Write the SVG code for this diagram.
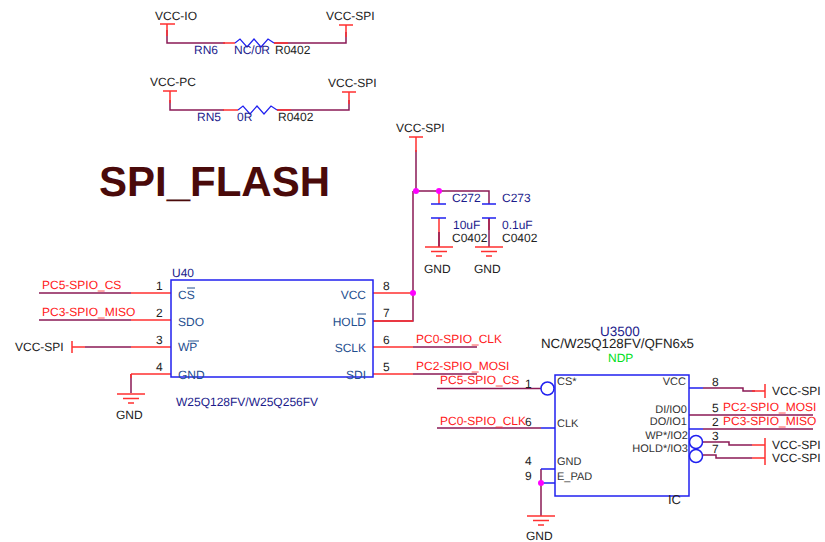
<svg xmlns="http://www.w3.org/2000/svg" width="825" height="542" viewBox="0 0 825 542">
<style>
text{font-family:"Liberation Sans",Arial,sans-serif;font-size:12px;fill:#222;text-rendering:geometricPrecision}
.n{fill:#1c1c8c}.p{fill:#1f4f8f}.r{fill:#ff2020}.g{fill:#00e020}
.k{font-size:11px;fill:#333}.e{text-anchor:end}
line,path,polyline,circle,rect{fill:none}
.w{stroke:#ff3030;stroke-width:1.5}.d{stroke:#8a1a55;stroke-width:1.5}
.b{stroke:#2020f0;stroke-width:1.5}
.o{stroke:#1f4f8f;stroke-width:1}
.j{fill:#ff00ff;stroke:none}
.t{fill:#4a0a0a;font-size:42px;font-weight:bold}
</style>
<defs>
<g id="gnd"><path class="w" d="M-14 0H14M-8 4.500H8M-3 9H3"/></g>
</defs>
<rect width="825" height="542" fill="#fff"/>
<g id="connectors">
<path class="d" d="M167 30V43H225M274 43H346V32"/>
<path class="w" d="M167 24V36M223 43H235M274 43H288M346 25V37"/>
<path class="d" d="M170 100V110H224M277 110H349V100"/>
<path class="w" d="M170 91V103M223 110H238M277 110H291M349 92V104"/>
<path class="b" d="M235 43L240 39L247 47L254 39L261 47L268 39L274 43M238 110L243 106L250 114L257 106L264 114L271 106L277 110" style="stroke-width:1.200"/>
<path class="d" d="M416 150V191M413 191H489V204M413 191V321H373"/>
<path class="w" d="M416 137V152M439 191V204M439 218V247M489 218V230M373 293H413M373 321H413"/>
<path class="d" d="M439 232V247M489 218V247"/>
<path class="b" d="M431 204H446M431 218H446M482 204H496M482 218H496"/>
<path class="d" d="M39 293H131M39 320H131M85 347H131M131 374V393"/>
<path class="w" d="M131 293H171M131 320H171M131 347H171M131 374H171M72 347H85M131 374V378"/>
<path class="w" d="M72 341V353M409 137H423"/>
<path class="w" d="M373 347H413M373 374H413"/>
<path class="d" d="M413 347H477M413 374H477"/>
<path class="d" d="M437 388.500H541M437 428H541"/>
<path class="b" d="M541 428H555M689 388H703M689 429H703"/>
<path class="d" d="M703 388H743V391H755M689 415H813M703 429H813M703 442H729V445H752M703 455H716V458H752"/>
<path class="w" d="M752 445H765M752 458H765M752 391H765M765 384V398M765 438V465"/>
<path class="d" d="M541 469V516"/>
<path class="b" d="M541 469H555M541 483H555"/>
<path class="w" d="M160 24H175M339 25H353M163 91H177M342 92H356"/>
</g>
<use href="#gnd" x="439" y="247"/>
<use href="#gnd" x="489" y="247"/>
<use href="#gnd" x="131" y="394"/>
<use href="#gnd" x="541" y="516"/>
<circle class="j" cx="416" cy="191" r="3"/>
<circle class="j" cx="439" cy="191" r="3"/>
<circle class="j" cx="413" cy="293" r="3"/>
<circle class="j" cx="541" cy="483" r="3"/>
<g id="title"><text class="t" x="99" y="196">SPI_FLASH</text></g>
<g id="RN6">
<text x="155" y="20">VCC-IO</text><text x="326" y="20">VCC-SPI</text>
<text class="n" x="194" y="54">RN6</text><text class="n" x="234" y="54">NC/0R</text><text x="275" y="54">R0402</text>
</g>
<g id="RN5">
<text x="150" y="86">VCC-PC</text><text x="328" y="87">VCC-SPI</text>
<text class="n" x="197" y="121">RN5</text><text class="n" x="237" y="121">0R</text><text x="278" y="121">R0402</text>
</g>
<g id="C272">
<text x="396" y="132">VCC-SPI</text>
<text class="n" x="452" y="202">C272</text><text class="n" x="453" y="229">10uF</text><text x="452" y="242">C0402</text><text x="424" y="273">GND</text>
</g>
<g id="C273">
<text class="n" x="502" y="202">C273</text><text class="n" x="502" y="229">0.1uF</text><text x="502" y="242">C0402</text><text x="474" y="273">GND</text>
</g>
<g id="U40">
<rect class="b" x="171" y="280" width="202" height="97"/>
<text class="n" x="172" y="277">U40</text>
<text class="p" x="178" y="299">CS</text><path class="o" d="M187 288H195"/>
<text class="p" x="178" y="326">SDO</text>
<text class="p" x="178" y="351">WP</text><path class="o" d="M188 341H199"/>
<text class="p" x="178" y="379">GND</text>
<text class="p e" x="366" y="299">VCC</text>
<text class="p e" x="366" y="326">HOLD</text><path class="o" d="M357 314H366"/>
<text class="p e" x="366" y="352">SCLK</text>
<text class="p e" x="366" y="379">SDI</text>
<text class="n" x="176" y="406">W25Q128FV/W25Q256FV</text>
<text x="156" y="290">1</text><text x="156" y="317">2</text><text x="156" y="344">3</text><text x="156" y="371">4</text>
<text x="383" y="290">8</text><text x="383" y="317">7</text><text x="383" y="344">6</text><text x="383" y="371">5</text>
<text class="r" x="42" y="289">PC5-SPIO_CS</text><text class="r" x="42" y="316">PC3-SPIO_MISO</text>
<text x="15" y="351">VCC-SPI</text><text x="116" y="419">GND</text>
<text class="r" x="416" y="343">PC0-SPIO_CLK</text><text class="r" x="416" y="370">PC2-SPIO_MOSI</text>
</g>
<g id="U3500">
<rect class="b" x="555" y="375" width="134" height="121"/>
<circle class="b" cx="547.500" cy="388.500" r="6.500"/>
<circle class="b" cx="696" cy="442" r="6.500"/>
<circle class="b" cx="696" cy="456" r="6.500"/>
<text class="n" x="600" y="336" style="font-size:13.500px">U3500</text>
<text x="541" y="348" style="font-size:13.300px">NC/W25Q128FV/QFN6x5</text>
<text class="g" x="608" y="362">NDP</text>
<text class="k" x="557" y="385">CS*</text><text class="k" x="557" y="427">CLK</text><text class="k" x="557" y="465">GND</text><text class="k" x="557" y="480">E_PAD</text>
<text class="k e" x="686" y="385">VCC</text><text class="k e" x="687" y="413">DI/IO0</text><text class="k e" x="687" y="425">DO/IO1</text><text class="k e" x="688" y="439">WP*/IO2</text><text class="k e" x="688" y="452">HOLD*/IO3</text>
<text x="668" y="504" style="font-size:13px">IC</text>
<text class="r" x="440" y="384">PC5-SPIO_CS</text><text class="r" x="440" y="425">PC0-SPIO_CLK</text>
<text x="525" y="388">1</text><text x="525" y="426">6</text><text x="525" y="465">4</text><text x="525" y="480">9</text>
<text x="712" y="386">8</text><text x="712" y="412">5</text><text x="712" y="426">2</text><text x="712" y="440">3</text><text x="712" y="453">7</text>
<text class="r" x="723" y="411">PC2-SPIO_MOSI</text><text class="r" x="723" y="425">PC3-SPIO_MISO</text>
<text x="772" y="395">VCC-SPI</text><text x="772" y="449">VCC-SPI</text><text x="772" y="462">VCC-SPI</text>
<text x="526" y="540">GND</text>
</g>
</svg>
